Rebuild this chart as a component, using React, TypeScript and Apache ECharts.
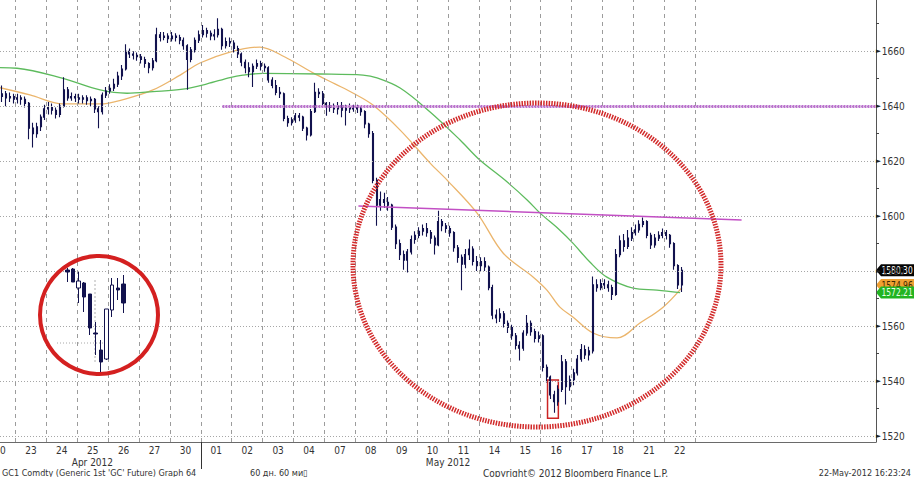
import React, { useEffect, useRef } from 'react';
import * as echarts from 'echarts';

const FONT = "'Liberation Sans Narrow', 'DejaVu Sans Condensed', 'Liberation Sans', Arial, sans-serif";

// x axis: one unit = one trading day, day i spans [i, i+1]
const dayLabels = ['20', '23', '24', '25', '26', '27', '30', '01', '02', '03', '04', '07', '08', '09', '10', '11', '14', '15', '16', '17', '18', '21', '22'];
const monthLabels = ['Apr 2012', 'May 2012'];
const monthLabelAt = [3.49, 15.0];
const monthBoundary = [7];
const barsPerDay = 8;
const firstDaySlot = 4; // only the second half of 20 Apr is visible

const yLabelValues = [1520, 1540, 1560, 1580, 1600, 1620, 1640, 1660];
const yTickValues = [1520, 1530, 1540, 1550, 1560, 1570, 1580, 1590, 1600, 1610, 1620, 1630, 1640, 1650, 1660, 1670];

// OHLC bars: [open, close, low, high]
const apr20 = [[1643.5, 1644.5, 1641.5, 1647.5], [1644.5, 1643, 1640, 1645.5], [1643, 1643.5, 1641.5, 1645], [1643.5, 1642.5, 1641, 1644.5]];
const apr23 = [[1642.5, 1643, 1641, 1644.5], [1643, 1642.5, 1640.5, 1644], [1642.5, 1641, 1639.5, 1643.5], [1641, 1632, 1628, 1641.5], [1632, 1630, 1625, 1634], [1630, 1632.5, 1628.5, 1634], [1632.5, 1636, 1631, 1637], [1636, 1639, 1635, 1640.5]];
const apr24 = [[1639, 1639.5, 1637, 1641.5], [1639.5, 1638.5, 1637, 1641], [1638.5, 1637, 1635.5, 1639.5], [1637, 1640, 1636, 1641], [1640, 1646, 1639.5, 1650.5], [1646, 1643, 1642, 1647], [1643, 1643.5, 1642, 1645], [1643.5, 1643, 1641.5, 1644.5]];
const apr25 = [[1643, 1642.5, 1641, 1644.5], [1642.5, 1643, 1641, 1644], [1643, 1642, 1640.5, 1644], [1642, 1642.5, 1640, 1643.5], [1642.5, 1639, 1637.5, 1643], [1639, 1638, 1632, 1640], [1638, 1644, 1637, 1645], [1644, 1645.5, 1643, 1647]];
const apr26 = [[1645.5, 1646.5, 1644.5, 1648], [1646.5, 1648, 1645.5, 1650], [1648, 1651, 1647, 1652.5], [1651, 1653.5, 1649.5, 1655], [1653.5, 1660, 1653, 1662.5], [1660, 1659, 1657.5, 1661], [1659, 1658.5, 1657, 1660], [1658.5, 1658, 1656.5, 1659.5]];
const apr27 = [[1658, 1657, 1655.5, 1659], [1657, 1655.5, 1654, 1658], [1655.5, 1654, 1652, 1656], [1654, 1656.5, 1653, 1657.5], [1656.5, 1666, 1656, 1668.5], [1666, 1665, 1663.5, 1667], [1665, 1665.5, 1664, 1667], [1665.5, 1664.5, 1663, 1666.5]];
const apr30 = [[1664.5, 1665.5, 1663.5, 1667], [1665.5, 1665, 1663.5, 1666.5], [1665, 1664, 1662.5, 1666], [1664, 1662, 1660.5, 1665], [1662, 1657, 1646, 1662.5], [1657, 1660.5, 1656, 1661.5], [1660.5, 1664, 1659.5, 1665], [1664, 1666, 1663, 1667.5]];
const may01 = [[1666, 1667.5, 1665, 1669.5], [1667.5, 1666.5, 1665, 1668.5], [1666.5, 1665.5, 1664, 1667.5], [1665.5, 1666, 1664, 1668], [1666, 1668, 1665, 1672], [1668, 1662, 1660.5, 1668.5], [1662, 1663.5, 1661, 1665], [1663.5, 1663, 1661.5, 1665]];
const may02 = [[1663, 1661, 1659.5, 1664], [1661, 1659, 1657.5, 1662], [1659, 1656, 1654.5, 1659.5], [1656, 1654, 1652, 1657], [1654, 1652.5, 1650.5, 1656], [1652.5, 1654.5, 1647, 1655.5], [1654.5, 1655.5, 1653.5, 1657], [1655.5, 1654.5, 1653, 1656.5]];
const may03 = [[1654.5, 1654, 1652.5, 1655.5], [1654, 1649.5, 1648.5, 1654.5], [1649.5, 1647.5, 1646.5, 1650.5], [1647.5, 1645, 1644, 1649.5], [1645, 1644.5, 1643, 1647], [1644.5, 1635.5, 1634.5, 1645], [1635.5, 1634, 1632.5, 1636.5], [1634, 1635, 1633, 1636]];
const may04 = [[1635, 1636.5, 1634, 1637.5], [1636.5, 1636, 1634.5, 1637.5], [1636, 1632, 1631, 1636.5], [1632, 1629.5, 1627.5, 1632.5], [1629.5, 1638, 1629, 1639], [1638, 1645, 1637.5, 1648.5], [1645, 1644.5, 1643, 1646.5], [1644.5, 1641, 1639.5, 1645.5]];
const may07 = [[1641, 1639.5, 1636.5, 1641.5], [1639.5, 1640, 1638, 1641.5], [1640, 1639, 1637.5, 1641], [1639, 1640, 1637, 1641.5], [1640, 1638.5, 1636, 1641.5], [1638.5, 1639.5, 1633, 1640.5], [1639.5, 1639, 1637.5, 1641], [1639, 1639.5, 1638, 1640.5]];
const may08 = [[1639.5, 1639, 1637.5, 1640.5], [1639, 1638, 1636.5, 1640], [1638, 1633.5, 1632, 1638.5], [1633.5, 1630, 1628.5, 1634], [1630, 1613, 1612, 1631], [1613, 1604, 1596.5, 1614], [1604, 1606, 1602, 1609], [1606, 1605, 1603, 1608.5]];
const may09 = [[1605, 1604, 1602, 1607], [1604, 1596, 1595, 1604.5], [1596, 1590, 1588, 1597], [1590, 1586, 1584, 1591.5], [1586, 1584, 1580.5, 1587.5], [1584, 1587, 1579.5, 1588], [1587, 1591.5, 1586, 1593], [1591.5, 1593, 1590, 1594.5]];
const may10 = [[1593, 1594.5, 1592, 1596], [1594.5, 1595.5, 1593, 1597], [1595.5, 1594, 1592.5, 1597.5], [1594, 1592, 1590, 1595], [1592, 1589.5, 1586, 1593], [1589.5, 1598, 1589, 1602], [1598, 1596.5, 1594.5, 1599], [1596.5, 1595.5, 1594, 1597.5]];
const may11 = [[1595.5, 1594, 1592.5, 1596.5], [1594, 1588.5, 1587, 1594.5], [1588.5, 1585, 1583, 1589.5], [1585, 1582.5, 1573, 1586], [1582.5, 1586, 1581, 1588], [1586, 1588, 1584, 1591.5], [1588, 1583.5, 1582, 1589], [1583.5, 1582, 1580, 1585.5]];
const may14 = [[1582, 1583.5, 1580, 1585], [1583.5, 1581.5, 1580, 1585], [1581.5, 1574, 1573, 1582], [1574, 1564, 1562.5, 1575], [1564, 1563, 1561, 1566], [1563, 1564.5, 1561.5, 1566.5], [1564.5, 1561, 1559.5, 1565.5], [1561, 1559.5, 1557.5, 1562]];
const may15 = [[1559.5, 1556.5, 1555, 1560.5], [1556.5, 1553, 1551.5, 1557.5], [1553, 1552, 1547.5, 1554.5], [1552, 1557.5, 1551, 1558.5], [1557.5, 1561, 1556.5, 1564], [1561, 1558, 1556.5, 1562], [1558, 1555.5, 1554, 1559], [1555.5, 1556.5, 1554, 1558]];
const may16 = [[1556.5, 1545, 1543.5, 1557], [1545, 1541.5, 1539.5, 1546], [1541.5, 1535, 1533.5, 1542], [1535, 1532.5, 1528.5, 1536.5], [1532.5, 1537, 1531, 1538.5], [1537, 1547, 1536, 1549.5], [1547, 1538, 1531.5, 1548], [1538, 1540.5, 1536.5, 1542]];
const may17 = [[1540.5, 1543, 1538.5, 1544.5], [1543, 1548, 1542, 1549.5], [1548, 1551.5, 1547, 1553.5], [1551.5, 1549.5, 1548, 1553], [1549.5, 1551, 1547.5, 1552.5], [1551, 1575, 1550, 1578], [1575, 1574, 1572.5, 1577], [1574, 1575.5, 1573, 1577]];
const may18 = [[1575.5, 1575, 1573.5, 1577], [1575, 1574, 1572.5, 1576.5], [1574, 1571.5, 1569.5, 1575], [1571.5, 1586, 1571, 1588], [1586, 1591, 1585, 1593], [1591, 1589, 1587, 1593.5], [1589, 1592, 1588, 1595], [1592, 1594, 1591, 1596]];
const may21 = [[1594, 1595, 1593, 1597], [1595, 1597, 1594, 1598.5], [1597, 1598, 1596, 1599.5], [1598, 1593, 1592, 1598.5], [1593, 1589.5, 1588, 1594], [1589.5, 1592, 1588.5, 1593.5], [1592, 1593, 1591, 1594.5], [1593, 1594, 1592, 1595.5]];
const may22 = [[1594, 1593, 1591.5, 1595], [1593, 1590, 1588.5, 1593.5], [1590, 1582, 1580.5, 1590.5], [1582, 1575, 1573.5, 1582.5], [1575, 1580.3, 1572.4, 1581.5]];

const priceDays = [apr20, apr23, apr24, apr25, apr26, apr27, apr30, may01, may02, may03, may04, may07, may08, may09, may10, may11, may14, may15, may16, may17, may18, may21, may22];

// moving averages: sample time (days) and value
const maOrangeT = [0.5, 1.47, 2.54, 3.74, 4.55, 5.45, 6.33, 6.97, 7.94, 8.91, 9.72, 10.63, 11.34, 11.92, 12.57, 13.45, 14.42, 14.97, 15.94, 16.78, 17.75, 18.2, 18.62, 19.04, 19.69, 20.47, 21.21, 21.96, 22.57];
const maOrangeV = [1646.7, 1644.1, 1640.8, 1640.8, 1642.6, 1645.9, 1651.3, 1655.7, 1659.7, 1661.5, 1657.9, 1652.1, 1648.1, 1644.8, 1640.4, 1631.3, 1619.3, 1613.1, 1601.1, 1586.6, 1577.9, 1573.1, 1566.9, 1563.3, 1557.5, 1555.7, 1561.1, 1566.9, 1574.0];
const maGreenT = [0.5, 1.05, 2.54, 3.74, 4.61, 5.45, 6.42, 7.2, 7.94, 8.36, 9.01, 10.86, 12.25, 12.7, 13.45, 14.42, 15.39, 16.03, 16.84, 17.56, 17.98, 18.62, 19.04, 19.59, 20.14, 20.99, 21.76, 22.51];
const maGreenV = [1654.0, 1653.8, 1650.1, 1645.9, 1644.7, 1645.3, 1646.2, 1648.1, 1650.4, 1651.3, 1651.9, 1651.7, 1651.3, 1650.3, 1646.6, 1637.9, 1627.7, 1620.4, 1613.1, 1605.9, 1601.1, 1594.9, 1590.2, 1583.3, 1577.8, 1573.8, 1573.1, 1572.21];

// last-value tags
const lastPrice = 1580.3;
const lastOrange = 1574.96;
const lastGreen = 1572.21;

// annotations (data coordinates)
const resistanceLevel = 1640;
const resistanceStart = 7.7;
const trendStart = [12.1, 1603.7];
const trendEnd = [24.5, 1598.6];
const lowBox = [[18.22, 1540.4], [18.57, 1526.5]];

// inset (zoomed candles)
const insetOHLC = [
  [1557.5, 1557, 1554.5, 1558],
  [1557.75, 1554.5, 1554.5, 1558],
  [1553, 1554.75, 1549.25, 1557],
  [1554.25, 1550.75, 1547, 1554.5],
  [1551.5, 1543, 1541.25, 1551.5],
  [1541.75, 1541.5, 1536.25, 1544.5],
  [1537.5, 1534.5, 1532, 1540],
  [1535.25, 1547.75, 1535, 1547.75],
  [1547.5, 1553.75, 1545.75, 1555.5],
  [1553, 1552.5, 1550, 1555.5],
  [1554, 1549.25, 1546.75, 1556.25],
];

const NAVY = '#12124e';

export default function App() {
  const ref = useRef<HTMLDivElement>(null);
  useEffect(() => {
    if (!ref.current) return;
    const chart = echarts.init(ref.current, null, { renderer: 'svg' });

    const candles: number[][] = [];
    priceDays.forEach((bars, d) => {
      const start = d === 0 ? firstDaySlot : 0;
      bars.forEach((b, k) => {
        candles.push([d + (start + k + 0.5) / barsPerDay, b[0], b[1], b[2], b[3]]);
      });
    });
    const dayCenters = dayLabels.map((_, i) => i + 0.5);
    const dayBounds = dayLabels.map((_, i) => i + 1);

    const xMin = 0.5;
    const xMax = 28.85;

    const option: any = {
      animation: false,
      backgroundColor: '#ffffff',
      textStyle: { fontFamily: FONT },
      grid: [
        { left: 0, right: 38, top: 0, bottom: 35, containLabel: false, outerBoundsMode: 'none' },
        { left: 64.6, top: 260, width: 61.6, height: 120, containLabel: false, outerBoundsMode: 'none' },
      ],
      xAxis: [
        {
          type: 'value', gridIndex: 0, min: xMin, max: xMax,
          splitLine: { show: false },
          axisLine: { show: true, onZero: false, lineStyle: { color: '#6a6a6a', width: 1 } },
          axisTick: { show: true, customValues: monthBoundary, length: 27, lineStyle: { color: '#333', width: 1 } },
          axisLabel: {
            customValues: dayCenters, color: '#333', fontSize: 10, fontFamily: FONT, margin: 3,
            showMinLabel: true, showMaxLabel: true, hideOverlap: false,
            formatter: (v: number) => dayLabels[Math.round(v - 0.5)] ?? '',
          },
        },
        {
          type: 'value', gridIndex: 0, min: xMin, max: xMax, position: 'bottom', offset: 12,
          splitLine: { show: false }, axisLine: { show: false }, axisTick: { show: false },
          axisLabel: {
            customValues: monthLabelAt, color: '#333', fontSize: 10, fontFamily: FONT, margin: 3,
            hideOverlap: false,
            formatter: (v: number) => {
              let best = 0;
              monthLabelAt.forEach((m, i) => { if (Math.abs(m - v) < Math.abs(monthLabelAt[best] - v)) best = i; });
              return monthLabels[best];
            },
          },
        },
        { type: 'category', gridIndex: 1, data: insetOHLC.map((_, i) => String(i)), show: false },
      ],
      yAxis: [
        {
          type: 'value', gridIndex: 0, position: 'right', min: 1517.84, max: 1678.62,
          splitLine: { show: false },
          axisLine: { show: true, lineStyle: { color: '#555', width: 1 } },
          axisTick: { show: true, customValues: yTickValues, length: 3, lineStyle: { color: '#444' } },
          axisLabel: {
            customValues: yLabelValues, color: '#333', fontSize: 10, fontFamily: FONT, margin: 0,
            formatter: (v: number) => '{t|►}' + v,
            rich: { t: { fontSize: 7, color: '#222', padding: [0, 1, 0, 0] } },
          },
        },
        { type: 'value', gridIndex: 1, min: 1530, max: 1560, show: false },
      ],
      series: [
        {
          type: 'line', xAxisIndex: 0, yAxisIndex: 0, data: [], z: 1, silent: true,
          markLine: {
            silent: true, symbol: ['none', 'none'], label: { show: false }, animation: false,
            lineStyle: { color: '#9c9c9c', type: [4, 4], width: 1 },
            data: [
              ...dayBounds.map((v) => ({ xAxis: v })),
              ...yLabelValues.map((v) => ({ yAxis: v, lineStyle: { color: '#a6a6a6', type: [1, 2], width: 1 } })),
            ],
          },
        },
        {
          type: 'line', xAxisIndex: 0, yAxisIndex: 0, z: 3, smooth: 0.35, showSymbol: false, silent: true,
          data: maOrangeT.map((t, i) => [t, maOrangeV[i]]),
          lineStyle: { color: '#ebb56c', width: 1.3 },
        },
        {
          type: 'line', xAxisIndex: 0, yAxisIndex: 0, z: 3, smooth: 0.35, showSymbol: false, silent: true,
          data: maGreenT.map((t, i) => [t, maGreenV[i]]),
          lineStyle: { color: '#5dbb5d', width: 1.3 },
        },
        {
          type: 'candlestick', xAxisIndex: 0, yAxisIndex: 0, z: 4, silent: true,
          encode: { x: 0, y: [1, 2, 3, 4] },
          data: candles, barWidth: 1.5,
          itemStyle: { color: '#ffffff', color0: NAVY, borderColor: NAVY, borderColor0: NAVY, borderWidth: 1.1 },
          markLine: {
            silent: true, symbol: ['none', 'none'], label: { show: false }, animation: false,
            data: [
              [
                { coord: [resistanceStart, resistanceLevel], lineStyle: { color: '#bb6fcf', type: [2, 1], width: 3 } },
                { coord: [xMax, resistanceLevel] },
              ],
              [
                { coord: trendStart, lineStyle: { color: '#c24fc4', type: 'solid', width: 1.6 } },
                { coord: trendEnd },
              ],
            ],
          },
          markArea: {
            silent: true,
            itemStyle: { color: 'rgba(0,0,0,0)', borderColor: '#cc2424', borderWidth: 1.5 },
            data: [[{ coord: lowBox[0] }, { coord: lowBox[1] }]],
          },
        },
        {
          type: 'candlestick', xAxisIndex: 2, yAxisIndex: 1, z: 6, silent: true,
          data: insetOHLC, barWidth: 4,
          itemStyle: { color: '#ffffff', color0: NAVY, borderColor: NAVY, borderColor0: NAVY, borderWidth: 1 },
        },
      ],
    };
    chart.setOption(option);

    const yOf = (v: number) => chart.convertToPixel({ yAxisIndex: 0 } as any, v) as number;
    const tag = (id: string, v: number, bg: string, fg: string) => {
      const y = yOf(v);
      return {
        type: 'group', id, z: 100,
        children: [
          { type: 'polygon', shape: { points: [[876, y], [881, y - 6], [914, y - 6], [914, y + 6], [881, y + 6]] }, style: { fill: bg } },
          { type: 'text', x: 881.5, y, scaleX: 0.84, style: { text: v.toFixed(2), fill: fg, font: `10px ${FONT}`, verticalAlign: 'middle', align: 'left' } },
        ],
      };
    };
    const footer = (id: string, x: number, text: string, align: string = 'left') => ({
      type: 'text', id, x, y: 473, z: 100,
      style: { text, fill: '#333', font: `9px ${FONT}`, verticalAlign: 'middle', align },
    });

    chart.setOption({
      graphic: [
        {
          type: 'ellipse', id: 'ellipse', z: 50, silent: true,
          shape: { cx: 537, cy: 265, rx: 184, ry: 162 },
          style: { fill: 'none', stroke: '#d22a2a', lineWidth: 5, lineDash: [1.5, 1.2] },
        },
        {
          type: 'line', id: 'insetH', z: 5, silent: true,
          shape: { x1: 57, y1: 343, x2: 110, y2: 343 },
          style: { stroke: '#a8a8a8', lineWidth: 1, lineDash: [1, 2] },
        },
        {
          type: 'line', id: 'insetV', z: 5, silent: true,
          shape: { x1: 95, y1: 280, x2: 95, y2: 362 },
          style: { stroke: '#b0b0b0', lineWidth: 1, lineDash: [2, 2] },
        },
        {
          type: 'circle', id: 'circle', z: 50, silent: true,
          shape: { cx: 99, cy: 315, r: 59 },
          style: { fill: 'none', stroke: '#d42020', lineWidth: 4 },
        },
        tag('tagOrange', lastOrange, '#f0a032', '#3a2a00'),
        tag('tagGreen', lastGreen, '#22b422', '#eaffea'),
        tag('tagBlack', lastPrice, '#050505', '#ffffff'),
        footer('f1', 2, "GC1 Comdty (Generic 1st 'GC' Future) Graph 64"),
        footer('f2', 250, '60 дн. 60 ми▯'),
        { ...footer('f3', 483, 'Copyright© 2012 Bloomberg Finance L.P.'), style: { text: 'Copyright© 2012 Bloomberg Finance L.P.', fill: '#333', font: `10px ${FONT}`, verticalAlign: 'middle', align: 'left' } },
        footer('f4', 911, '22-May-2012 16:23:24', 'right'),
      ],
    });

    return () => chart.dispose();
  }, []);

  return (
    <div
      ref={ref}
      style={{ position: 'absolute', left: 0, top: 0, width: 914, height: 477, background: '#ffffff' }}
    />
  );
}
